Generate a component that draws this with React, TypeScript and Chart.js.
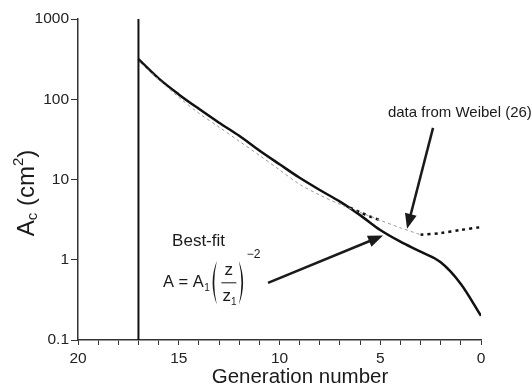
import React, { useEffect, useRef } from 'react';
import { Chart, registerables } from 'chart.js';

Chart.register(...registerables);

// Best-fit curve A = A1 (z/z1)^-2
const fitGeneration = [17, 16, 15, 14, 13, 12, 11, 10, 9, 8, 7, 6, 5, 4, 3, 2, 1, 0];
const fitArea = [316, 182, 115, 76, 51, 35, 23, 15.5, 10.5, 7.4, 5.3, 3.6, 2.35, 1.68, 1.26, 0.93, 0.5, 0.2];

// Data from Weibel (26): thin grey dashed part
const weibelGeneration = [17, 16, 15, 14, 13, 12, 11, 10, 9, 8, 7, 6, 5, 4, 3];
const weibelArea = [300, 176, 106, 67, 45, 30, 20, 13.2, 8.7, 6.4, 4.9, 3.9, 3.1, 2.5, 2.05];

// Data from Weibel (26): heavy dotted parts
const weibelDotGeneration = [6.5, 6, 5.5, 5, 4.9, 3, 2, 1, 0];
const weibelDotArea: (number | null)[] = [4.45, 3.9, 3.45, 3.1, null, 2.05, 2.15, 2.35, 2.55];

// Vertical cut-off line
const cutoffGeneration = [17, 17];
const cutoffArea = [0.1, 1000];

const xTickValues = [20, 19, 18, 17, 16, 15, 14, 13, 12, 11, 10, 9, 8, 7, 6, 5, 4, 3, 2, 1, 0];
const xLabelledTicks = [20, 15, 10, 5, 0];
const yTickValues = [0.1, 1, 10, 100, 1000];
const yTickLabels = ['0.1', '1', '10', '100', '1000'];

// Annotation anchors in data coordinates [generation, area]
const weibelLabelAt = [4.62, 68];
const weibelArrowFrom = [2.38, 44];
const weibelArrowTo = [3.67, 2.44];
const bestFitLabelAt = [15.33, 1.7];
const formulaAt = [15.78, 0.516];
const fitArrowFrom = [10.57, 0.516];
const fitArrowTo = [4.86, 2.0];

const FONT = '"Liberation Sans", Arial, sans-serif';

function drawArrow(ctx: CanvasRenderingContext2D, x0: number, y0: number, x1: number, y1: number) {
  const ang = Math.atan2(y1 - y0, x1 - x0);
  const L = 15, W = 6;
  const c = Math.cos(ang), s = Math.sin(ang);
  const bx = x1 - L * c, by = y1 - L * s;
  ctx.lineWidth = 2.5;
  ctx.beginPath();
  ctx.moveTo(x0, y0);
  ctx.lineTo(bx + 2 * c, by + 2 * s);
  ctx.stroke();
  ctx.beginPath();
  ctx.moveTo(x1, y1);
  ctx.lineTo(bx + W * s, by - W * c);
  ctx.lineTo(bx - W * s, by + W * c);
  ctx.closePath();
  ctx.fill();
}

function drawParen(ctx: CanvasRenderingContext2D, x: number, cy: number, h: number, left: boolean) {
  const top = cy - h / 2, bot = cy + h / 2;
  ctx.beginPath();
  if (left) {
    ctx.moveTo(x + 7, top);
    ctx.quadraticCurveTo(x - 1.5, cy, x + 7, bot);
    ctx.quadraticCurveTo(x + 1.8, cy, x + 7, top);
  } else {
    ctx.moveTo(x, top);
    ctx.quadraticCurveTo(x + 8.5, cy, x, bot);
    ctx.quadraticCurveTo(x + 5.2, cy, x, top);
  }
  ctx.closePath();
  ctx.fill();
}

const annotationPlugin = {
  id: 'annotations',
  afterDraw(chart: any) {
    const { ctx, scales } = chart;
    const xs = scales.x, ys = scales.y;
    const P = (p: number[]) => [xs.getPixelForValue(p[0]), ys.getPixelForValue(p[1])];
    ctx.save();
    ctx.fillStyle = '#1a1a1a';
    ctx.strokeStyle = '#1a1a1a';
    ctx.textBaseline = 'middle';

    // Weibel label + arrow
    const wl = P(weibelLabelAt);
    ctx.font = `15px ${FONT}`;
    ctx.textAlign = 'left';
    ctx.fillText('data from Weibel (26)', wl[0], wl[1]);
    const wa0 = P(weibelArrowFrom), wa1 = P(weibelArrowTo);
    drawArrow(ctx, wa0[0], wa0[1], wa1[0], wa1[1]);

    // Best-fit label
    const bl = P(bestFitLabelAt);
    ctx.font = `17px ${FONT}`;
    ctx.fillText('Best-fit', bl[0], bl[1]);

    // Formula
    const f = P(formulaAt);
    const fx = f[0], fy = f[1];
    ctx.font = `16.5px ${FONT}`;
    ctx.fillText('A = A', fx, fy);
    const w = ctx.measureText('A = A').width;
    ctx.font = `10px ${FONT}`;
    ctx.fillText('1', fx + w + 0.5, fy + 5);
    const pl = fx + w + 6;
    drawParen(ctx, pl, fy, 44, true);
    const cx = pl + 19;
    ctx.font = `17px ${FONT}`;
    ctx.textAlign = 'center';
    ctx.fillText('z', cx, fy - 12);
    ctx.fillText('z', cx - 2, fy + 14);
    ctx.font = `10px ${FONT}`;
    ctx.fillText('1', cx + 5, fy + 19);
    ctx.lineWidth = 1;
    ctx.beginPath();
    ctx.moveTo(cx - 7.5, fy);
    ctx.lineTo(cx + 7.5, fy);
    ctx.stroke();
    drawParen(ctx, cx + 10, fy, 44, false);
    ctx.font = `12px ${FONT}`;
    ctx.textAlign = 'left';
    ctx.fillText('\u22122', cx + 18, fy - 28);

    const fa0 = P(fitArrowFrom), fa1 = P(fitArrowTo);
    drawArrow(ctx, fa0[0], fa0[1], fa1[0], fa1[1]);

    // Y axis title: A_c (cm^2)
    ctx.save();
    ctx.translate(27, 193);
    ctx.rotate(-Math.PI / 2);
    const parts = [
      { t: 'A', size: 24, dy: 0 },
      { t: 'c', size: 15, dy: 6 },
      { t: ' (cm', size: 24, dy: 0 },
      { t: '2', size: 15, dy: -8 },
      { t: ')', size: 24, dy: 0 },
    ];
    let total = 0;
    for (const p of parts) {
      ctx.font = `${p.size}px ${FONT}`;
      total += ctx.measureText(p.t).width;
    }
    let cur = -total / 2;
    ctx.textAlign = 'left';
    for (const p of parts) {
      ctx.font = `${p.size}px ${FONT}`;
      ctx.fillText(p.t, cur, p.dy);
      cur += ctx.measureText(p.t).width;
    }
    ctx.restore();

    // X axis title
    ctx.font = `20.5px ${FONT}`;
    ctx.textAlign = 'center';
    ctx.fillText('Generation number', 300, 377);

    ctx.restore();
  },
};

export default function App() {
  const ref = useRef<HTMLCanvasElement>(null);

  useEffect(() => {
    document.body.style.margin = '0';
    const canvas = ref.current!;
    const chart = new Chart(canvas, {
      type: 'line',
      data: {
        datasets: [
          {
            label: 'cutoff',
            data: cutoffGeneration.map((g, i) => ({ x: g, y: cutoffArea[i] })),
            borderColor: '#111',
            borderWidth: 2,
            pointRadius: 0,
            tension: 0,
          },
          {
            label: 'Weibel (dashed)',
            data: weibelGeneration.map((g, i) => ({ x: g, y: weibelArea[i] })),
            borderColor: '#9a9a9a',
            borderWidth: 1,
            borderDash: [3, 3],
            pointRadius: 0,
            tension: 0.3,
          },
          {
            label: 'Weibel (dotted)',
            data: weibelDotGeneration.map((g, i) => ({ x: g, y: weibelDotArea[i] })),
            borderColor: '#111',
            borderWidth: 2.5,
            borderDash: [3, 4],
            pointRadius: 0,
            tension: 0.3,
            spanGaps: false,
          },
          {
            label: 'Best-fit',
            data: fitGeneration.map((g, i) => ({ x: g, y: fitArea[i] })),
            borderColor: '#111',
            borderWidth: 2.5,
            pointRadius: 0,
            cubicInterpolationMode: 'monotone',
          },
        ],
      },
      options: {
        animation: false,
        responsive: false,
        events: [],
        layout: { padding: { top: 19, right: 51, left: 0, bottom: 0 } },
        plugins: { legend: { display: false }, tooltip: { enabled: false } },
        scales: {
          x: {
            type: 'linear',
            min: 0,
            max: 20,
            reverse: true,
            afterFit: (s: any) => { s.height = 48; },
            afterBuildTicks: (s: any) => { s.ticks = xTickValues.map((v) => ({ value: v })); },
            ticks: {
              autoSkip: false,
              maxRotation: 0,
              padding: 4,
              color: '#222',
              font: { family: FONT, size: 15.5 },
              callback: (v: any) => (xLabelledTicks.includes(Number(v)) ? String(v) : ''),
            },
            grid: { display: true, drawOnChartArea: false, drawTicks: true, tickLength: 5, color: '#333', lineWidth: 1 },
            border: { display: true, color: '#333', width: 1.5 },
          },
          y: {
            type: 'logarithmic',
            min: 0.1,
            max: 1000,
            afterFit: (s: any) => { s.width = 78; },
            afterBuildTicks: (s: any) => { s.ticks = yTickValues.map((v) => ({ value: v })); },
            ticks: {
              autoSkip: false,
              padding: 2,
              color: '#222',
              font: { family: FONT, size: 15.5 },
              callback: (v: any) => {
                const i = yTickValues.indexOf(Number(v));
                return i >= 0 ? yTickLabels[i] : '';
              },
            },
            grid: { display: true, drawOnChartArea: false, drawTicks: true, tickLength: 7, color: '#333', lineWidth: 1 },
            border: { display: true, color: '#333', width: 1.5 },
          },
        },
      },
      plugins: [annotationPlugin],
    } as any);
    return () => chart.destroy();
  }, []);

  return (
    <div style={{ position: 'fixed', left: 0, top: 0, width: 532, height: 388, background: '#fff' }}>
      <canvas ref={ref} width={532} height={388} style={{ display: 'block' }} />
    </div>
  );
}
